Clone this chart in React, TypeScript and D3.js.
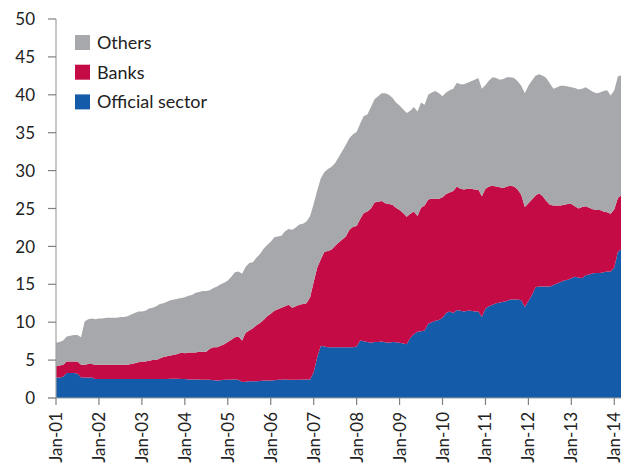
import React from "react";
import * as d3 from "d3";

const tickLabels = ["Jan-01","Jan-02","Jan-03","Jan-04","Jan-05","Jan-06","Jan-07","Jan-08","Jan-09","Jan-10","Jan-11","Jan-12","Jan-13","Jan-14"];
const yTicks = [0, 5, 10, 15, 20, 25, 30, 35, 40, 45, 50];
const seriesNames = ["Official sector", "Banks", "Others"];
const colors = ["#145ca9", "#c40b45", "#a7a8ab"];

// monthly, Jan-01 .. Mar-14
const official = [
  2.7, 2.7, 2.8, 3.3, 3.3, 3.3, 3.2, 2.7, 2.7, 2.7, 2.7, 2.5,
  2.5, 2.5, 2.5, 2.5, 2.5, 2.5, 2.5, 2.5, 2.5, 2.5, 2.5, 2.5,
  2.5, 2.5, 2.5, 2.5, 2.5, 2.5, 2.5, 2.5, 2.55, 2.55, 2.55, 2.5,
  2.5, 2.45, 2.45, 2.45, 2.45, 2.4, 2.4, 2.4, 2.35, 2.3, 2.35, 2.4,
  2.4, 2.45, 2.45, 2.4, 2.1, 2.15, 2.2, 2.2, 2.2, 2.25, 2.3, 2.3,
  2.3, 2.35, 2.4, 2.4, 2.45, 2.4, 2.4, 2.4, 2.4, 2.45, 2.45, 2.45,
  3.4, 5.4, 6.9, 6.8, 6.7, 6.7, 6.7, 6.7, 6.7, 6.7, 6.7, 6.7,
  6.8, 7.6, 7.5, 7.4, 7.3, 7.4, 7.4, 7.45, 7.35, 7.3, 7.4, 7.35,
  7.3, 7.2, 7.1, 7.9, 8.4, 8.75, 8.8, 8.9, 9.8, 10.0, 10.2, 10.3,
  10.6, 11.2, 11.4, 11.2, 11.6, 11.5, 11.4, 11.5, 11.5, 11.4, 11.4, 10.7,
  11.8, 12.1, 12.3, 12.5, 12.6, 12.7, 12.8, 13.0, 13.0, 13.0, 12.9, 12.0,
  12.8, 13.6, 14.6, 14.7, 14.7, 14.7, 14.7, 14.9, 15.1, 15.3, 15.5, 15.6,
  15.8, 16.0, 15.9, 15.8, 16.2, 16.3, 16.45, 16.5, 16.5, 16.6, 16.7, 16.7,
  17.2, 19.3, 19.6,
];
const banks = [
  1.5, 1.6, 1.6, 1.5, 1.5, 1.5, 1.6, 1.7, 1.7, 1.8, 1.8, 1.9,
  1.9, 1.9, 1.9, 1.9, 1.9, 1.9, 1.9, 1.9, 1.9, 2.0, 2.1, 2.2,
  2.3, 2.3, 2.4, 2.5, 2.5, 2.7, 2.9, 3.0, 3.05, 3.15, 3.25, 3.5,
  3.4, 3.55, 3.55, 3.55, 3.65, 3.7, 3.7, 4.1, 4.35, 4.4, 4.55, 4.7,
  5.0, 5.25, 5.55, 5.7, 5.5, 6.45, 6.7, 7.0, 7.4, 7.65, 8.0, 8.5,
  8.8, 9.15, 9.3, 9.5, 9.65, 9.9, 9.5, 9.7, 9.9, 9.95, 10.05, 10.85,
  11.9, 11.8, 11.4, 12.5, 12.7, 12.9, 13.4, 13.8, 14.2, 14.6, 15.5, 15.9,
  15.9, 16.0, 16.9, 17.2, 17.7, 18.4, 18.5, 18.55, 18.35, 18.3, 18.1, 17.75,
  17.5, 17.2, 16.8, 16.4, 16.2, 15.25, 16.3, 16.5, 16.4, 16.3, 16.1, 16.0,
  15.9, 15.7, 15.7, 16.1, 16.3, 16.1, 16.1, 16.1, 16.1, 16.1, 16.1, 15.9,
  15.8, 15.8, 15.7, 15.4, 15.2, 15.0, 15.1, 15.0, 14.9, 14.5, 13.9, 13.2,
  12.9, 12.6, 12.1, 12.3, 11.9, 11.3, 10.8, 10.5, 10.3, 10.1, 10.0, 10.0,
  9.8, 9.3, 9.1, 9.4, 9.1, 8.8, 8.45, 8.3, 8.3, 8.0, 7.8, 7.6,
  7.7, 7.1, 7.2,
];
const others = [
  3.1, 3.1, 3.2, 3.3, 3.4, 3.5, 3.5, 3.6, 5.7, 5.9, 6.0, 6.0,
  6.1, 6.1, 6.2, 6.2, 6.2, 6.2, 6.3, 6.3, 6.4, 6.5, 6.6, 6.7,
  6.6, 6.7, 6.9, 6.9, 7.1, 7.2, 7.1, 7.2, 7.3, 7.3, 7.3, 7.2,
  7.4, 7.5, 7.6, 7.9, 7.9, 8.0, 8.0, 7.7, 7.8, 8.0, 8.1, 8.1,
  8.1, 8.3, 8.6, 8.6, 8.8, 8.7, 8.9, 8.7, 8.9, 9.1, 9.4, 9.4,
  9.5, 9.7, 9.6, 9.5, 9.9, 10.0, 10.3, 10.4, 10.6, 10.6, 10.8, 10.7,
  10.3, 10.2, 10.7, 10.5, 10.8, 10.9, 10.9, 11.3, 11.7, 12.1, 12.1, 12.2,
  12.4, 12.6, 12.8, 12.8, 13.4, 13.6, 13.9, 14.2, 14.5, 14.4, 14.1, 13.9,
  13.8, 13.7, 13.7, 13.6, 13.8, 13.8, 13.9, 13.3, 13.8, 14.0, 14.2, 13.9,
  13.3, 13.4, 13.5, 13.5, 13.7, 13.8, 13.9, 14.0, 14.2, 14.5, 14.7, 14.2,
  13.7, 14.0, 14.3, 14.3, 14.2, 14.4, 14.4, 14.3, 14.3, 14.3, 14.4, 15.0,
  15.5, 15.7, 15.8, 15.7, 15.9, 16.2, 16.0, 15.4, 15.6, 15.8, 15.7, 15.5,
  15.4, 15.6, 15.7, 15.6, 15.7, 15.6, 15.5, 15.4, 15.5, 15.9, 16.1, 15.6,
  15.7, 16.0, 15.8,
];

const W = 621;
const H = 466;
const FONT = "Lato, 'Open Sans', sans-serif";

export default function App() {
  const x = d3.scaleLinear().domain([0, 156]).range([56, 614.3]);
  const y = d3.scaleLinear().domain([0, 50]).range([398, 19]);

  const rows = official.map((v, i) => ({ i, o: v, b: banks[i], t: others[i] }));
  const stack = d3.stack<any>().keys(["o", "b", "t"])(rows);
  const area = d3
    .area<any>()
    .x((d) => x(d.data.i))
    .y0((d) => y(d[0]))
    .y1((d) => y(d[1]))
    .curve(d3.curveLinear);

  const legendOrder = [2, 1, 0];

  return (
    <svg width={W} height={H} style={{ position: "absolute", left: 0, top: 0, background: "#fff" }}>
      {stack.map((s, k) => (
        <path key={k} d={area(s) || ""} fill={colors[k]} />
      ))}
      {/* y axis */}
      <line x1={56} x2={56} y1={y(50)} y2={y(0)} stroke="#a0a0a0" strokeWidth={1.2} />
      {yTicks.map((t) => (
        <g key={t}>
          <line x1={48} x2={56} y1={y(t)} y2={y(t)} stroke="#808080" strokeWidth={1.2} />
          <text x={35} y={y(t)} dy="0.36em" textAnchor="end" fontFamily={FONT} fontSize={17} fill="#222">
            {t}
          </text>
        </g>
      ))}
      {/* x axis */}
      <line x1={48} x2={W} y1={y(0)} y2={y(0)} stroke="#a0a0a0" strokeWidth={1.2} />
      {tickLabels.map((lab, j) => {
        const xx = x(j * 12);
        return (
          <g key={lab}>
            <line x1={xx} x2={xx} y1={y(0)} y2={y(0) + 7} stroke="#808080" strokeWidth={1.2} />
            <text
              transform={`translate(${xx + 6},${412}) rotate(-90)`}
              textAnchor="end"
              fontFamily={FONT}
              fontSize={17}
              fill="#222"
            >
              {lab}
            </text>
          </g>
        );
      })}
      {/* legend */}
      {legendOrder.map((k, r) => (
        <g key={k} transform={`translate(75,${35 + r * 29.7})`}>
          <rect x={0} y={0} width={15} height={15} fill={colors[k]} />
          <text x={22} y={7.5} dy="0.36em" fontFamily={FONT} fontSize={18} fill="#222">
            {seriesNames[k]}
          </text>
        </g>
      ))}
    </svg>
  );
}
